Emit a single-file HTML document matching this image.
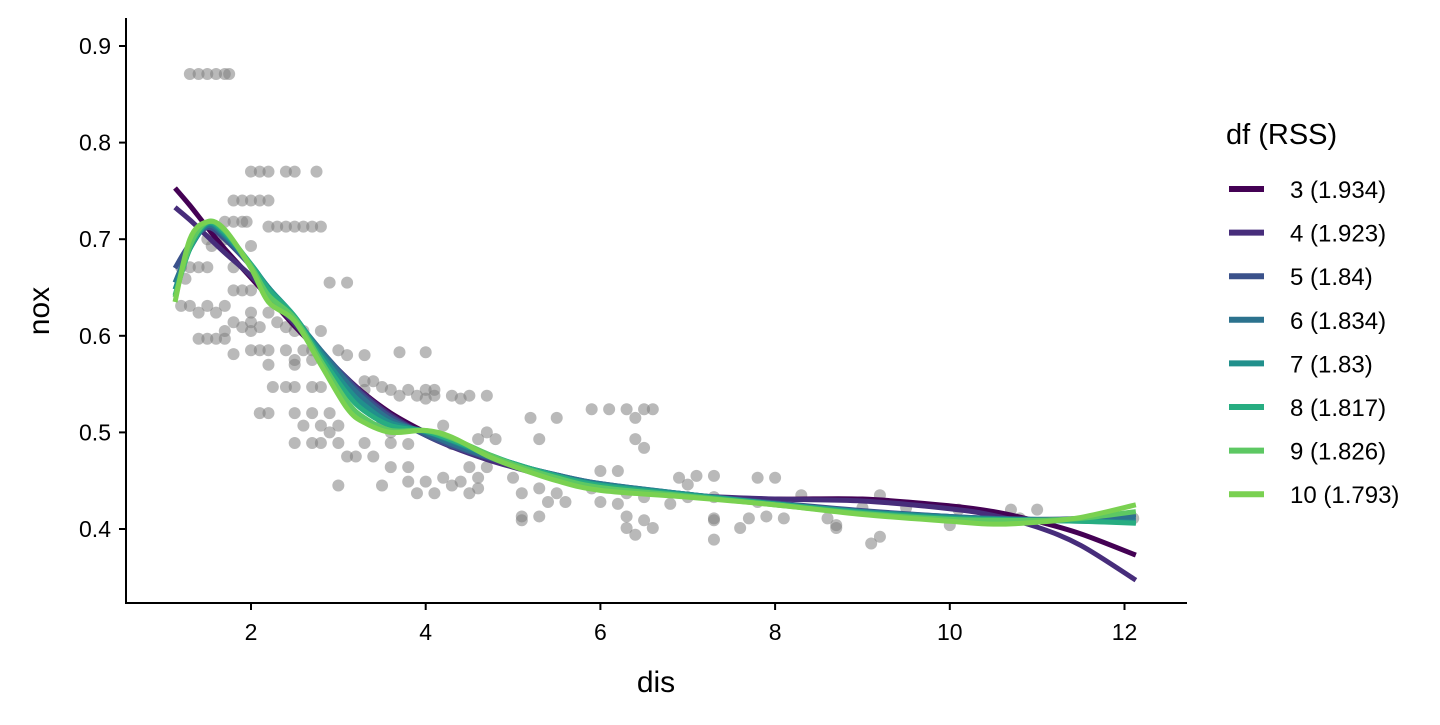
<!DOCTYPE html>
<html><head><meta charset="utf-8"><style>
body{margin:0;background:#fff;}
svg text{font-family:"Liberation Sans",sans-serif;}
</style></head><body>
<svg id="chart" width="1440" height="720" xmlns="http://www.w3.org/2000/svg">
<g id="points"></g>
<g id="lines"></g>
<g id="axes"></g>
<g id="legend"></g>
</svg>
<script>
const xTicks=[2,4,6,8,10,12];
const yTicks=[0.4,0.5,0.6,0.7,0.8,0.9];
const yTickLabels=["0.4","0.5","0.6","0.7","0.8","0.9"];
const pointRows=[
[0.871,[1.3,1.4,1.5,1.6,1.7,1.75]],[0.77,[2.0,2.1,2.2,2.4,2.5,2.75]],[0.74,[1.8,1.9,2.0,2.1,2.2]],
[0.718,[1.7,1.8,1.9,1.95]],[0.713,[2.2,2.3,2.4,2.5,2.6,2.7,2.8]],[0.70,[1.5,1.6,1.7]],[0.693,[1.55,2.0]],
[0.671,[1.2,1.3,1.4,1.5,1.8]],[0.659,[1.25]],[0.647,[1.8,1.9,2.0]],[0.631,[1.2,1.3,1.5,1.7]],
[0.624,[1.4,1.6,2.0,2.2]],[0.614,[1.8,2.0,2.3,2.5]],[0.609,[1.9,2.1,2.4]],[0.605,[1.7,2.0,2.5,2.6,2.8]],
[0.597,[1.4,1.5,1.6,1.7]],[0.585,[2.0,2.1,2.2,2.4,2.6,2.7,3.0]],[0.583,[3.7,4.0]],[0.581,[1.8]],
[0.575,[2.5,2.7]],[0.57,[2.2,2.5]],[0.655,[2.9,3.1]],[0.58,[3.1,3.3]],[0.553,[3.3,3.4]],
[0.547,[2.25,2.4,2.5,2.7,2.8,3.0,3.5]],[0.544,[3.3,3.6,3.8,4.0,4.1]],[0.538,[3.7,3.9,4.1,4.3,4.5,4.7]],
[0.535,[4.0,4.4]],[0.52,[2.1,2.2,2.5,2.7,2.9]],[0.51,[3.5,3.7]],[0.507,[2.6,2.8,3.0,3.5,4.2]],
[0.5,[2.9,3.6,4.7]],[0.489,[2.5,2.7,2.8,3.0,3.3,3.6]],[0.493,[4.6,4.8]],[0.488,[3.8,4.3]],
[0.475,[3.1,3.2,3.4]],[0.464,[3.6,3.8,4.5,4.7]],[0.453,[4.2,4.6,5.0]],[0.449,[3.8,4.0,4.4]],
[0.445,[3.0,3.5,4.3]],[0.442,[4.6,5.3,5.9]],[0.437,[3.9,4.1,4.5,5.1,5.5,6.3]],[0.433,[6.5,7.0,7.3]],
[0.428,[5.4,5.6,6.0]],[0.426,[6.2,6.8]],[0.524,[5.9,6.1,6.3,6.5,6.6]],[0.515,[5.2,5.5,6.4]],
[0.493,[5.3,6.4]],[0.484,[6.5]],[0.46,[6.0,6.2]],[0.455,[7.1,7.3]],[0.453,[6.9,7.8,8.0]],[0.446,[7.0]],
[0.413,[5.1,5.3,6.3,7.9]],[0.409,[5.1,6.5,7.3]],[0.401,[6.3,6.6,7.6,8.7]],[0.394,[6.4]],[0.389,[7.3]],
[0.385,[9.1]],[0.392,[9.2]],[0.411,[7.3,7.7,8.1,8.6,10.6,10.8,12.1]],[0.435,[8.3,9.2]],
[0.422,[9.0,9.5]],[0.404,[8.7,10.0]],[0.428,[7.8]],[0.42,[10.1,10.7,11.0]]
];
const fitX=[1.13,1.3,1.5,1.7,2,2.2,2.5,2.8,3.1,3.3,3.6,4,4.3,4.7,5,5.5,6,7,8,9,10,10.5,11,11.5,12.13];
const df3=[0.753,0.735,0.712,0.69,0.66,0.64,0.61,0.582,0.556,0.54,0.52,0.50,0.488,0.474,0.465,0.452,0.442,0.434,0.431,0.431,0.424,0.418,0.408,0.395,0.373];
const df4=[0.733,0.72,0.703,0.686,0.662,0.642,0.612,0.583,0.556,0.539,0.518,0.497,0.485,0.472,0.464,0.452,0.443,0.435,0.431,0.429,0.421,0.414,0.402,0.383,0.347];
const df5=[0.67,0.695,0.712,0.70,0.672,0.65,0.617,0.585,0.555,0.537,0.516,0.497,0.486,0.474,0.467,0.456,0.447,0.436,0.427,0.419,0.413,0.411,0.41,0.411,0.415];
const df6=[0.655,0.69,0.714,0.703,0.673,0.65,0.618,0.585,0.552,0.534,0.513,0.499,0.488,0.475,0.467,0.456,0.447,0.436,0.426,0.418,0.413,0.411,0.41,0.41,0.412];
const df7=[0.648,0.69,0.716,0.705,0.674,0.65,0.62,0.582,0.546,0.528,0.51,0.501,0.491,0.477,0.468,0.455,0.446,0.436,0.426,0.418,0.412,0.41,0.409,0.408,0.407];
const df8=[0.642,0.69,0.717,0.707,0.674,0.648,0.62,0.578,0.54,0.522,0.507,0.501,0.492,0.478,0.468,0.455,0.445,0.435,0.426,0.417,0.411,0.41,0.409,0.408,0.406];
const df9=[0.64,0.693,0.718,0.709,0.672,0.642,0.618,0.574,0.532,0.515,0.502,0.502,0.494,0.478,0.467,0.453,0.443,0.434,0.425,0.416,0.41,0.409,0.409,0.411,0.418];
const df10=[0.635,0.70,0.718,0.71,0.67,0.635,0.615,0.57,0.525,0.51,0.50,0.502,0.495,0.476,0.465,0.45,0.44,0.433,0.425,0.415,0.408,0.405,0.407,0.412,0.425];
const seriesNames=["3 (1.934)","4 (1.923)","5 (1.84)","6 (1.834)","7 (1.83)","8 (1.817)","9 (1.826)","10 (1.793)"];
const series=[df3,df4,df5,df6,df7,df8,df9,df10];
const colors=["#440154","#472D7B","#3B528B","#2C728E","#21908C","#27AD81","#5DC863","#7AD151"];

const NS="http://www.w3.org/2000/svg";
const sx=v=>251+(v-2)*87.35;
const sy=v=>529-(v-0.4)*966;
function mk(t,a,p){const e=document.createElementNS(NS,t);for(const k in a)e.setAttribute(k,a[k]);p.appendChild(e);return e;}
const gP=document.getElementById('points'),gL=document.getElementById('lines'),gA=document.getElementById('axes'),gG=document.getElementById('legend');
pointRows.forEach(r=>r[1].forEach(x=>{const c=mk('circle',{cx:sx(x),cy:sy(r[0]),r:6,fill:'#7f7f7f','fill-opacity':0.55},gP);

}));
function path(xs,ys){const p=xs.map((x,i)=>[sx(x),sy(ys[i])]);let d=`M${p[0][0]},${p[0][1]}`;
for(let i=0;i<p.length-1;i++){const p0=p[Math.max(0,i-1)],p1=p[i],p2=p[i+1],p3=p[Math.min(p.length-1,i+2)];
d+=` C${p1[0]+(p2[0]-p0[0])/6},${p1[1]+(p2[1]-p0[1])/6} ${p2[0]-(p3[0]-p1[0])/6},${p2[1]-(p3[1]-p1[1])/6} ${p2[0]},${p2[1]}`;}return d;}
series.forEach((s,i)=>{const e=mk('path',{d:path(fitX,s),fill:'none',stroke:colors[i],'stroke-width':5},gL);

});
mk('line',{x1:126,y1:18,x2:126,y2:604,stroke:'#000','stroke-width':2},gA);
mk('line',{x1:125,y1:603,x2:1187,y2:603,stroke:'#000','stroke-width':2},gA);
xTicks.forEach(v=>{mk('line',{x1:sx(v),y1:603,x2:sx(v),y2:610,stroke:'#000','stroke-width':2},gA);
const t=mk('text',{x:sx(v),y:640,'text-anchor':'middle','font-size':23,fill:'#000'},gA);t.textContent=v;

});
yTicks.forEach((v,i)=>{mk('line',{x1:119,y1:sy(v),x2:126,y2:sy(v),stroke:'#000','stroke-width':2},gA);
const t=mk('text',{x:111,y:sy(v)+8,'text-anchor':'end','font-size':23,fill:'#000'},gA);t.textContent=yTickLabels[i];

});
let t=mk('text',{x:656,y:692,'text-anchor':'middle','font-size':30},gA);t.textContent='dis';


t=mk('text',{x:0,y:0,'text-anchor':'middle','font-size':30,transform:'translate(49,311) rotate(-90)'},gA);t.textContent='nox';


t=mk('text',{x:1226,y:144,'font-size':29},gG);t.textContent='df (RSS)';


seriesNames.forEach((n,i)=>{const y=189+i*43.6;
const l=mk('line',{x1:1229,y1:y,x2:1264,y2:y,stroke:colors[i],'stroke-width':6},gG);


const tt=mk('text',{x:1290,y:y+9,'font-size':24},gG);tt.textContent=n;

});
</script>
</body></html>
